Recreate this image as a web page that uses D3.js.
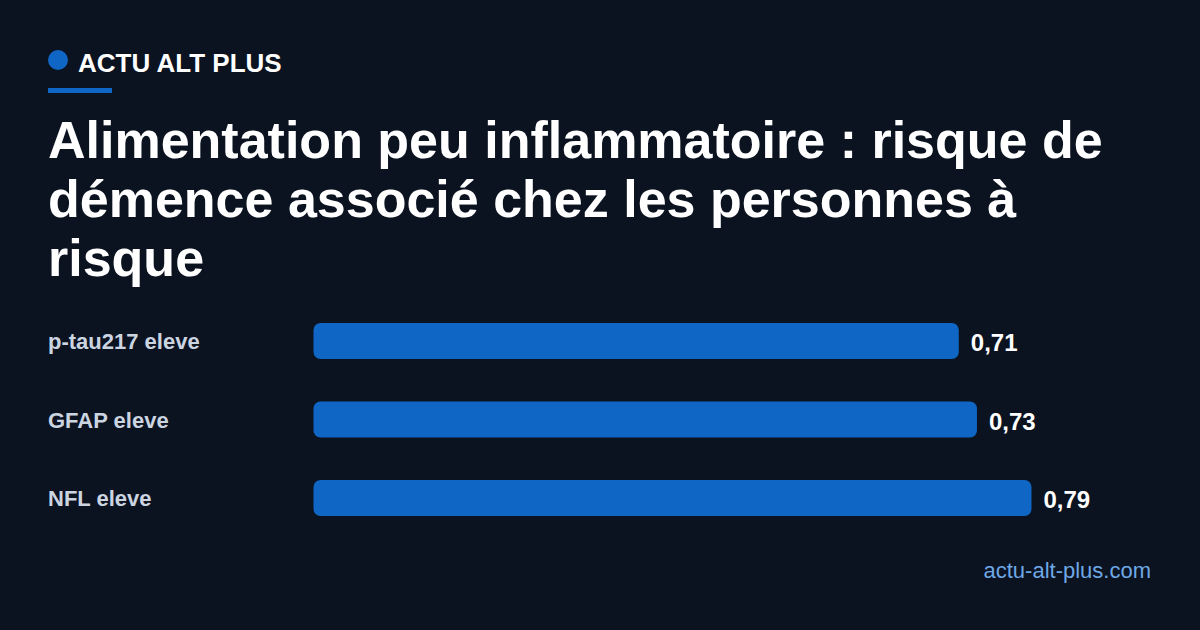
<!DOCTYPE html>
<html>
<head>
<meta charset="utf-8">
<script src="https://cdn.jsdelivr.net/npm/d3@7"></script>
<style>
  html, body { margin: 0; padding: 0; background: #0b1220; }
  svg { display: block; font-family: "Liberation Sans", Arial, sans-serif; }
</style>
</head>
<body>
<div id="chart"></div>
<script>
// data
var categories = ["p-tau217 eleve", "GFAP eleve", "NFL eleve"]
var values = [0.71, 0.73, 0.79]
var valueLabels = ["0,71", "0,73", "0,79"]
var brand = "ACTU ALT PLUS"
var titleLines = [
  "Alimentation peu inflammatoire : risque de",
  "démence associé chez les personnes à",
  "risque"
]
var source = "actu-alt-plus.com"

var width = 1200
var height = 630
var blue = "#0f66c4"

var svg = d3.select("#chart")
  .append("svg")
  .attr("width", width)
  .attr("height", height)

svg.append("rect")
  .attr("width", width)
  .attr("height", height)
  .attr("fill", "#0b1220")

// brand header
svg.append("circle")
  .attr("cx", 58)
  .attr("cy", 60)
  .attr("r", 10)
  .attr("fill", blue)

svg.append("text")
  .attr("x", 78)
  .attr("y", 72)
  .style("font-size", "26px")
  .style("font-weight", "bold")
  .style("fill", "#ffffff")
  .text(brand)

svg.append("rect")
  .attr("x", 48)
  .attr("y", 88)
  .attr("width", 64)
  .attr("height", 5)
  .attr("fill", blue)

// title
svg.append("g")
  .attr("class", "title")
  .selectAll("text")
  .data(titleLines)
  .enter()
  .append("text")
  .attr("x", 48)
  .attr("y", (d, i) => 158 + i * 59)
  .style("font-size", "52px")
  .style("font-weight", "bold")
  .style("fill", "#ffffff")
  .text(d => d)

// scales
var xScale = d3.scaleLinear()
  .domain([0, d3.max(values)])
  .range([313.5, 1031.5])

var yScale = d3.scaleBand()
  .domain(categories)
  .range([301.75, 537.25])
  .paddingInner(0.5414)
  .paddingOuter(0.2707)

var rows = categories.map((c, i) => ({ cat: c, value: values[i], label: valueLabels[i] }))

var barsG = svg.append("g").attr("class", "bars")

barsG.selectAll(".cat-label")
  .data(rows)
  .enter()
  .append("text")
  .attr("class", "cat-label")
  .attr("x", 48)
  .attr("y", d => yScale(d.cat) + yScale.bandwidth() / 2 + 8)
  .style("font-size", "22px")
  .style("font-weight", "bold")
  .style("fill", "#cbd5e1")
  .text(d => d.cat)

barsG.selectAll(".bar")
  .data(rows)
  .enter()
  .append("rect")
  .attr("class", "bar")
  .attr("x", xScale(0))
  .attr("y", d => yScale(d.cat))
  .attr("width", d => xScale(d.value) - xScale(0))
  .attr("height", yScale.bandwidth())
  .attr("rx", 7)
  .attr("fill", blue)

barsG.selectAll(".value-label")
  .data(rows)
  .enter()
  .append("text")
  .attr("class", "value-label")
  .attr("x", d => xScale(d.value) + 12)
  .attr("y", d => yScale(d.cat) + yScale.bandwidth() / 2 + 10)
  .style("font-size", "24px")
  .style("font-weight", "bold")
  .style("fill", "#ffffff")
  .text(d => d.label)

// footer
svg.append("text")
  .attr("x", 1151)
  .attr("y", 578)
  .attr("text-anchor", "end")
  .style("font-size", "22px")
  .style("fill", "#6ea8e6")
  .text(source)
</script>
</body>
</html>
